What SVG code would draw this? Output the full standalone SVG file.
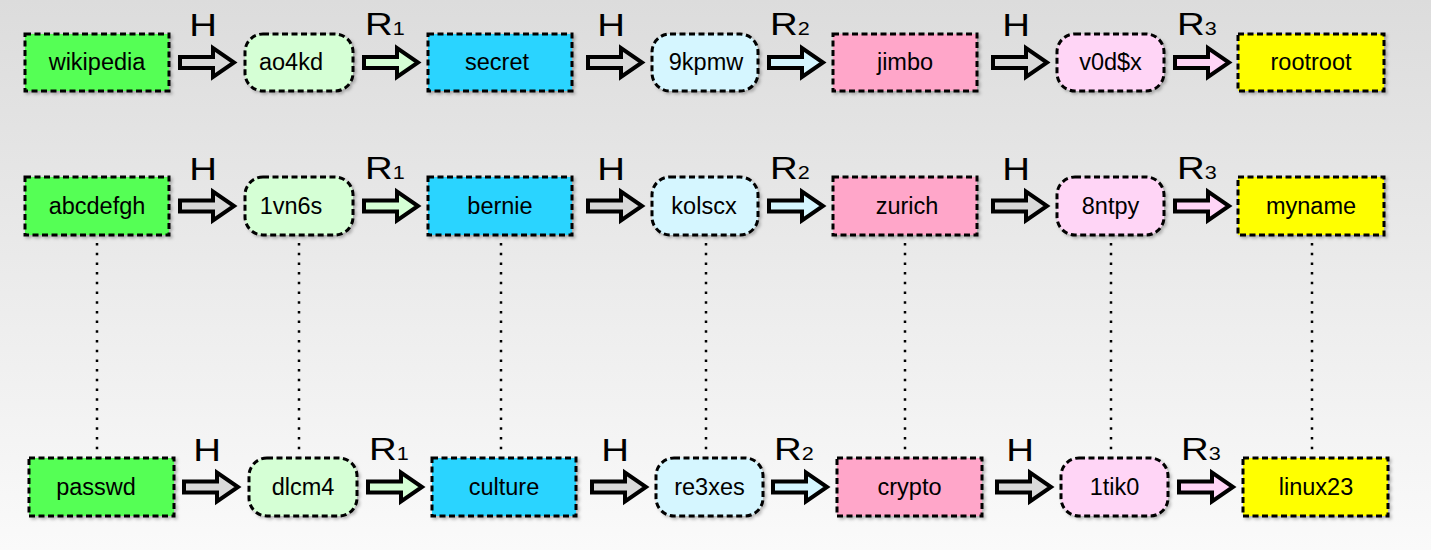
<svg xmlns="http://www.w3.org/2000/svg" width="1431" height="550" viewBox="0 0 1431 550">
<defs>
<linearGradient id="bg" x1="0" y1="0" x2="0" y2="1">
<stop offset="0" stop-color="#dcdcdc"/>
<stop offset="1" stop-color="#fafafa"/>
</linearGradient>
<filter id="sh" x="-10%" y="-20%" width="130%" height="150%">
<feDropShadow dx="2" dy="2" stdDeviation="1.5" flood-color="#000" flood-opacity="0.25"/>
</filter>
<path id="arr" d="M0,-5.5 H33 V-14.5 L54,0 L33,14.5 V5.5 H0 Z"/>
</defs>
<style>
.box{stroke:#000;stroke-width:3;stroke-dasharray:6 3.5;filter:url(#sh)}
.t{font-family:"Liberation Sans",Arial,sans-serif;font-size:23.5px;fill:#000;text-anchor:middle}
.lbl{font-family:"Liberation Sans",Arial,sans-serif;font-size:32px;fill:#000}
.sub{font-size:18px}
.a{stroke:#000;stroke-width:4;stroke-linejoin:miter;stroke-miterlimit:10}
.ah{fill:#d9d9d9}
.a1{fill:#d5ffd5}
.a2{fill:#d5f6ff}
.a3{fill:#ffd5f6}
.dot{stroke:#000;stroke-width:2.5;stroke-dasharray:2.5 7.2;fill:none}
.g{fill:#55ff55}.lg{fill:#d5ffd5}.c{fill:#2ad4ff}.lc{fill:#d5f6ff}.p{fill:#ffa6c9}.lp{fill:#ffd5f6}.y{fill:#ffff00}
</style>
<rect x="0" y="0" width="1431" height="550" fill="url(#bg)"/>

<g id="connectors">
<!-- dotted links -->
<line class="dot" x1="97" y1="243" x2="97" y2="450"/>
<line class="dot" x1="299" y1="243" x2="299" y2="450"/>
<line class="dot" x1="501" y1="243" x2="501" y2="450"/>
<line class="dot" x1="706" y1="243" x2="706" y2="450"/>
<line class="dot" x1="905" y1="243" x2="905" y2="450"/>
<line class="dot" x1="1111" y1="243" x2="1111" y2="450"/>
<line class="dot" x1="1312" y1="243" x2="1312" y2="450"/>
<!-- row 1 arrows -->
<use href="#arr" class="a ah" transform="translate(180,62.5)"/>
<use href="#arr" class="a a1" transform="translate(364,62.5)"/>
<use href="#arr" class="a ah" transform="translate(588,62.5)"/>
<use href="#arr" class="a a2" transform="translate(769,62.5)"/>
<use href="#arr" class="a ah" transform="translate(993,62.5)"/>
<use href="#arr" class="a a3" transform="translate(1175,62.5)"/>
<!-- row 2 arrows -->
<use href="#arr" class="a ah" transform="translate(180,206)"/>
<use href="#arr" class="a a1" transform="translate(364,206)"/>
<use href="#arr" class="a ah" transform="translate(588,206)"/>
<use href="#arr" class="a a2" transform="translate(769,206)"/>
<use href="#arr" class="a ah" transform="translate(993,206)"/>
<use href="#arr" class="a a3" transform="translate(1175,206)"/>
<!-- row 3 arrows -->
<use href="#arr" class="a ah" transform="translate(184,487)"/>
<use href="#arr" class="a a1" transform="translate(368,487)"/>
<use href="#arr" class="a ah" transform="translate(592,487)"/>
<use href="#arr" class="a a2" transform="translate(773,487)"/>
<use href="#arr" class="a ah" transform="translate(997,487)"/>
<use href="#arr" class="a a3" transform="translate(1179,487)"/>
<!-- labels row 1 -->
<text class="lbl" text-anchor="middle" transform="translate(203,36) scale(1.2,1)">H</text>
<text class="lbl" transform="translate(365,35) scale(1.2,1)">R<tspan class="sub">1</tspan></text>
<text class="lbl" text-anchor="middle" transform="translate(611,36) scale(1.2,1)">H</text>
<text class="lbl" transform="translate(770,35) scale(1.2,1)">R<tspan class="sub">2</tspan></text>
<text class="lbl" text-anchor="middle" transform="translate(1016,36) scale(1.2,1)">H</text>
<text class="lbl" transform="translate(1177,35) scale(1.2,1)">R<tspan class="sub">3</tspan></text>
<!-- labels row 2 -->
<text class="lbl" text-anchor="middle" transform="translate(203,180) scale(1.2,1)">H</text>
<text class="lbl" transform="translate(365,179) scale(1.2,1)">R<tspan class="sub">1</tspan></text>
<text class="lbl" text-anchor="middle" transform="translate(611,180) scale(1.2,1)">H</text>
<text class="lbl" transform="translate(770,179) scale(1.2,1)">R<tspan class="sub">2</tspan></text>
<text class="lbl" text-anchor="middle" transform="translate(1016,180) scale(1.2,1)">H</text>
<text class="lbl" transform="translate(1177,179) scale(1.2,1)">R<tspan class="sub">3</tspan></text>
<!-- labels row 3 -->
<text class="lbl" text-anchor="middle" transform="translate(207,461) scale(1.2,1)">H</text>
<text class="lbl" transform="translate(369,460) scale(1.2,1)">R<tspan class="sub">1</tspan></text>
<text class="lbl" text-anchor="middle" transform="translate(615,461) scale(1.2,1)">H</text>
<text class="lbl" transform="translate(774,460) scale(1.2,1)">R<tspan class="sub">2</tspan></text>
<text class="lbl" text-anchor="middle" transform="translate(1020,461) scale(1.2,1)">H</text>
<text class="lbl" transform="translate(1181,460) scale(1.2,1)">R<tspan class="sub">3</tspan></text>
</g>

<!-- row 1 -->
<g id="wikipedia"><rect class="box g" x="25" y="34" width="144" height="57"/><text class="t" x="97" y="70">wikipedia</text></g>
<g id="ao4kd"><rect class="box lg" x="245" y="34" width="108" height="57" rx="18"/><text class="t" x="291" y="70">ao4kd</text></g>
<g id="secret"><rect class="box c" x="428" y="34" width="144" height="57"/><text class="t" x="497" y="70">secret</text></g>
<g id="9kpmw"><rect class="box lc" x="652" y="34" width="106" height="57" rx="18"/><text class="t" x="706" y="70">9kpmw</text></g>
<g id="jimbo"><rect class="box p" x="833" y="34" width="144" height="57"/><text class="t" x="905" y="70">jimbo</text></g>
<g id="v0d$x"><rect class="box lp" x="1057" y="34" width="107" height="57" rx="18"/><text class="t" x="1110.5" y="70">v0d$x</text></g>
<g id="rootroot"><rect class="box y" x="1238" y="34" width="146" height="57"/><text class="t" x="1311" y="70">rootroot</text></g>

<!-- row 2 -->
<g id="abcdefgh"><rect class="box g" x="25" y="177" width="144" height="58"/><text class="t" x="97" y="213.5">abcdefgh</text></g>
<g id="1vn6s"><rect class="box lg" x="245" y="177" width="108" height="58" rx="18"/><text class="t" x="291" y="213.5">1vn6s</text></g>
<g id="bernie"><rect class="box c" x="428" y="177" width="144" height="58"/><text class="t" x="500" y="213.5">bernie</text></g>
<g id="kolscx"><rect class="box lc" x="652" y="177" width="106" height="58" rx="18"/><text class="t" x="704" y="213.5">kolscx</text></g>
<g id="zurich"><rect class="box p" x="833" y="177" width="144" height="58"/><text class="t" x="907" y="213.5">zurich</text></g>
<g id="8ntpy"><rect class="box lp" x="1057" y="177" width="107" height="58" rx="18"/><text class="t" x="1110.5" y="213.5">8ntpy</text></g>
<g id="myname"><rect class="box y" x="1238" y="177" width="146" height="58"/><text class="t" x="1311" y="213.5">myname</text></g>

<!-- row 3 -->
<g id="passwd"><rect class="box g" x="29" y="458" width="145" height="58"/><text class="t" x="96" y="494.5">passwd</text></g>
<g id="dlcm4"><rect class="box lg" x="249" y="458" width="108" height="58" rx="18"/><text class="t" x="303" y="494.5">dlcm4</text></g>
<g id="culture"><rect class="box c" x="432" y="458" width="144" height="58"/><text class="t" x="504" y="494.5">culture</text></g>
<g id="re3xes"><rect class="box lc" x="656" y="458" width="107" height="58" rx="18"/><text class="t" x="709.5" y="494.5">re3xes</text></g>
<g id="crypto"><rect class="box p" x="837" y="458" width="145" height="58"/><text class="t" x="909.5" y="494.5">crypto</text></g>
<g id="1tik0"><rect class="box lp" x="1061" y="458" width="107" height="58" rx="18"/><text class="t" x="1114.5" y="494.5">1tik0</text></g>
<g id="linux23"><rect class="box y" x="1243" y="458" width="145" height="58"/><text class="t" x="1316" y="494.5">linux23</text></g>
</svg>
